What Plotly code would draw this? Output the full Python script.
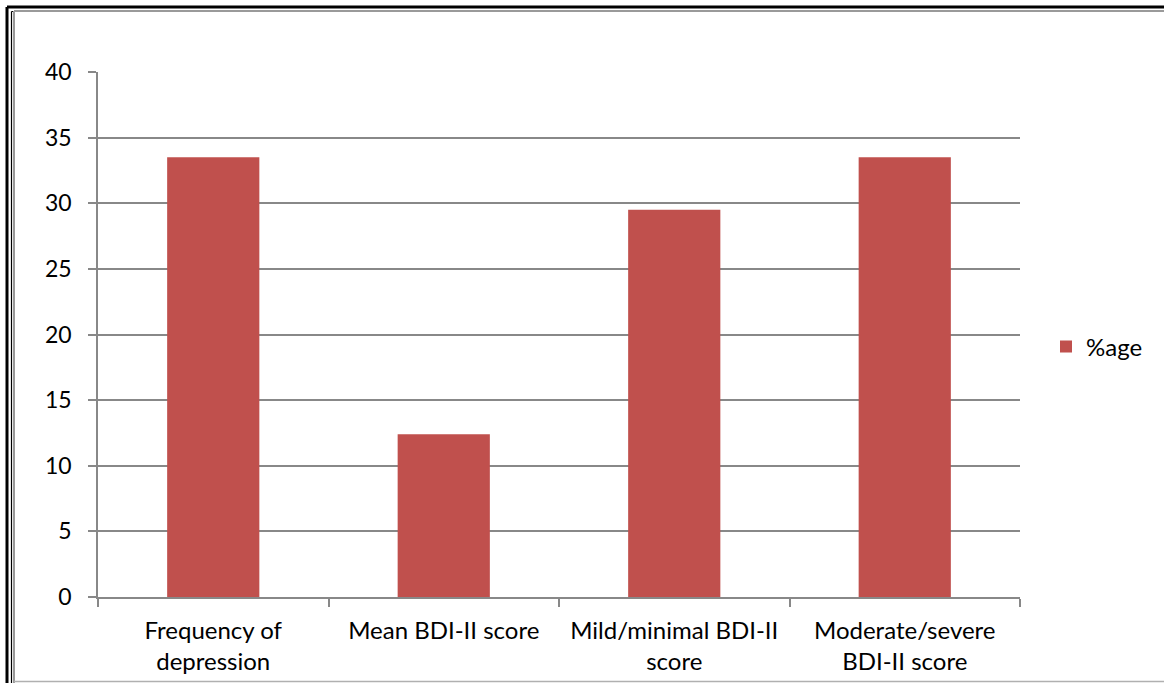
import plotly.graph_objects as go

categories = [
    "Frequency of<br>depression",
    "Mean BDI-II score",
    "Mild/minimal BDI-II<br>score",
    "Moderate/severe<br>BDI-II score",
]
values = [33.5, 12.4, 29.5, 33.5]
series_name = "%age"
y_ticks = [0, 5, 10, 15, 20, 25, 30, 35, 40]

W, H = 1164, 683
L, R, T, B = 98, 1020, 72, 597  # plot area in pixels
pw, ph = R - L, B - T


def px(x):
    return (x - L) / pw


def py(y):
    return (B - y) / ph


FONT = "Lato, 'Open Sans', sans-serif"
GRID = "#888888"
FS = 24

fig = go.Figure(
    go.Bar(
        x=categories,
        y=values,
        name=series_name,
        marker=dict(color="#C0504D", line=dict(width=0)),
        showlegend=True,
    )
)

# frame around the chart: thick black, thin black, gray
border = []
for x0, y0, color, w in [(7, 7, "black", 3), (11.5, 11.5, "black", 1.2), (14, 11, "#9a9a9a", 2)]:
    border.append(dict(type="line", xref="paper", yref="paper",
                       x0=px(x0), x1=px(x0), y0=py(y0), y1=py(H + 5),
                       line=dict(color=color, width=w)))
    border.append(dict(type="line", xref="paper", yref="paper",
                       x0=px(x0), x1=px(W + 5), y0=py(y0), y1=py(y0),
                       line=dict(color=color, width=w)))
border.append(dict(type="line", xref="paper", yref="paper",
                   x0=px(14), x1=px(W + 5), y0=py(681.5), y1=py(681.5),
                   line=dict(color="#b0b0b0", width=1.5)))

fig.update_layout(
    width=W,
    height=H,
    margin=dict(l=L, r=W - R, t=T, b=H - B, autoexpand=False),
    paper_bgcolor="white",
    plot_bgcolor="white",
    bargap=0.6,
    font=dict(family=FONT, size=FS, color="black"),
    shapes=border,
    legend=dict(
        x=px(1046), y=py(347), xanchor="left", yanchor="middle",
        font=dict(size=FS), itemwidth=30, bgcolor="rgba(0,0,0,0)",
    ),
    xaxis=dict(
        showline=True, linecolor=GRID, linewidth=1.5,
        ticks="outside", ticklen=8, tickcolor=GRID, tickwidth=1.5,
        tickson="boundaries", showgrid=False, automargin=False,
        tickfont=dict(size=FS), ticklabelstandoff=11,
    ),
    yaxis=dict(
        range=[0, 40], tickvals=y_ticks,
        showline=True, linecolor=GRID, linewidth=1.5,
        ticks="outside", ticklen=8, tickcolor=GRID, tickwidth=1.5,
        showgrid=True, gridcolor=GRID, gridwidth=1.5,
        zeroline=False, ticklabelstandoff=12, automargin=False,
        tickfont=dict(size=23),
    ),
)

fig.write_html("out.html")
